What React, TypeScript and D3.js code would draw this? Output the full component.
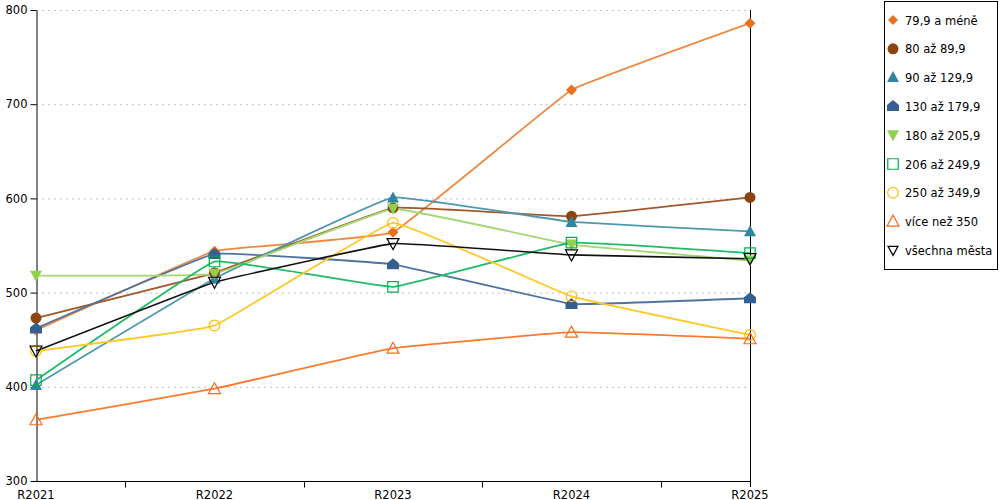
import React, { useEffect, useRef } from 'react';
import * as d3 from 'd3';

// data
const years = ['R2021', 'R2022', 'R2023', 'R2024', 'R2025'];
const seriesNames = [
	'79,9 a méně', '80 až 89,9', '90 až 129,9', '130 až 179,9', '180 až 205,9',
	'206 až 249,9', '250 až 349,9', 'více než 350', 'všechna města'
];
const v799 = [460, 544, 564, 715, 786];
const v80 = [473, 521, 590, 581, 601];
const v90 = [402, 515, 601, 575, 565];
const v130 = [462, 541, 530, 488, 494];
const v180 = [518, 520, 589, 551, 534];
const v206 = [407, 533, 506, 553, 542];
const v250 = [438, 465, 574, 496, 455];
const v350 = [365, 398, 441, 458, 451];
const vAll = [438, 511, 552, 540, 536];
const yTicks = [300, 400, 500, 600, 700, 800];

const allValues = [v799, v80, v90, v130, v180, v206, v250, v350, vAll];
const colors = ['#e8711c', '#8b4513', '#2e86a0', '#365f91', '#8fd14f', '#00b050', '#ffc000', '#fb6a1b', '#000000'];
const lineColors = ['#ee8a45', '#a0582a', '#4d98ae', '#4f73a0', '#a2d872', '#20bb66', '#ffc824', '#fc7a30', '#111111'];
const filled = [true, true, true, true, true, false, false, false, false];

const diamond = 'M0,-5.5L5.5,0L0,5.5L-5.5,0Z';
const house = 'M0,-6L6,-1L6,5L-6,5L-6,-1Z';
const tri = 'M0,-6L6,5L-6,5Z';
const triDown = 'M0,6L6,-5L-6,-5Z';
const triDownSmall = 'M0,5L5,-4L-5,-4Z';
const markerPath = (i: number) => {
	switch (i) {
		case 0: return diamond;
		case 1: return d3.symbol(d3.symbolCircle, 95)()!;
		case 2: return tri;
		case 3: return house;
		case 4: return triDown;
		case 5: return d3.symbol(d3.symbolSquare, 110)()!;
		case 6: return d3.symbol(d3.symbolCircle, 90)()!;
		case 7: return tri;
		default: return triDown;
	}
};
const legendPath = (i: number) => {
	if (i === 0) return 'M0,-5L5,0L0,5L-5,0Z';
	if (i === 8) return triDownSmall;
	return markerPath(i);
};

export default function App() {
	const ref = useRef<SVGSVGElement>(null);

	useEffect(() => {
		const svg = d3.select(ref.current);
		svg.selectAll('*').remove();
		const font = "'DejaVu Sans', Verdana, sans-serif";
		const fontSize = '11.5px';

		const x = d3.scalePoint<string>().domain(years).range([36, 750]);
		const y = d3.scaleLinear().domain([300, 800]).range([481, 10]);

		// grid
		svg.append('g')
			.selectAll('line')
			.data(yTicks.slice(1))
			.join('line')
			.attr('x1', 36).attr('x2', 750)
			.attr('y1', d => y(d) + 0.5).attr('y2', d => y(d) + 0.5)
			.attr('stroke', '#c0c0c0')
			.attr('stroke-dasharray', '2,4');

		// y axis
		const yAxis = svg.append('g')
			.attr('transform', 'translate(36.5,0)')
			.call(d3.axisLeft(y).tickValues(yTicks).tickSize(6).tickSizeOuter(0).tickPadding(3));
		yAxis.select('.domain').attr('stroke', '#000');
		yAxis.selectAll('text').style('font-family', font).style('font-size', fontSize).attr('fill', '#000');

		// right border
		svg.append('line')
			.attr('x1', 750.5).attr('x2', 750.5)
			.attr('y1', 10).attr('y2', 487)
			.attr('stroke', '#000');

		// x axis
		const step = x.step();
		const mids = years.slice(0, -1).map(d => (x(d) as number) + step / 2);
		const xg = svg.append('g').attr('transform', 'translate(0,481.5)');
		xg.append('line').attr('x1', 36).attr('x2', 751).attr('stroke', '#000');
		xg.selectAll('line.tick')
			.data(mids)
			.join('line')
			.attr('class', 'tick')
			.attr('x1', d => Math.round(d) + 0.5).attr('x2', d => Math.round(d) + 0.5)
			.attr('y1', 0).attr('y2', 6)
			.attr('stroke', '#000');
		xg.selectAll('text')
			.data(years)
			.join('text')
			.attr('x', d => x(d) as number)
			.attr('y', 17)
			.attr('text-anchor', 'middle')
			.style('font-family', font)
			.style('font-size', fontSize)
			.text(d => d);

		// lines
		const line = d3.line<number>()
			.x((_, i) => x(years[i]) as number)
			.y(d => y(d))
			.curve(d3.curveCardinal.tension(0.8));

		allValues.forEach((vals, s) => {
			svg.append('path')
				.datum(vals)
				.attr('fill', 'none')
				.attr('stroke', lineColors[s])
				.attr('stroke-width', s === 8 ? 1.6 : 1.8)
				.attr('d', line);
		});

		allValues.forEach((vals, s) => {
			svg.append('g')
				.selectAll('path')
				.data(vals)
				.join('path')
				.attr('transform', (d, i) => `translate(${x(years[i])},${y(d)})`)
				.attr('d', markerPath(s))
				.attr('fill', filled[s] ? colors[s] : 'none')
				.attr('stroke', colors[s])
				.attr('stroke-width', filled[s] ? 0 : 1.2);
		});

		// legend
		const lg = svg.append('g');
		lg.append('rect')
			.attr('x', 884.5).attr('y', 1.5)
			.attr('width', 113).attr('height', 268)
			.attr('fill', '#fff')
			.attr('stroke', '#000');
		const items = lg.selectAll('g.item')
			.data(seriesNames)
			.join('g')
			.attr('class', 'item')
			.attr('transform', (_, i) => `translate(893,${20 + i * 28.8})`);
		items.append('path')
			.attr('d', (_, i) => legendPath(i))
			.attr('transform', (_, i) => i === 2 || i === 3 || i === 7 ? 'translate(0,-0.5)' : null)
			.attr('fill', (_, i) => filled[i] ? colors[i] : 'none')
			.attr('stroke', (_, i) => colors[i])
			.attr('stroke-width', (_, i) => filled[i] ? 0 : 1.2);
		items.append('text')
			.attr('x', 12)
			.attr('y', 4.5)
			.style('font-family', font)
			.style('font-size', fontSize)
			.attr('fill', '#000')
			.text(d => d);
	}, []);

	return (
		<svg
			ref={ref}
			width={1000}
			height={500}
			style={{ position: 'absolute', left: 0, top: 0, background: '#fff' }}
		/>
	);
}
